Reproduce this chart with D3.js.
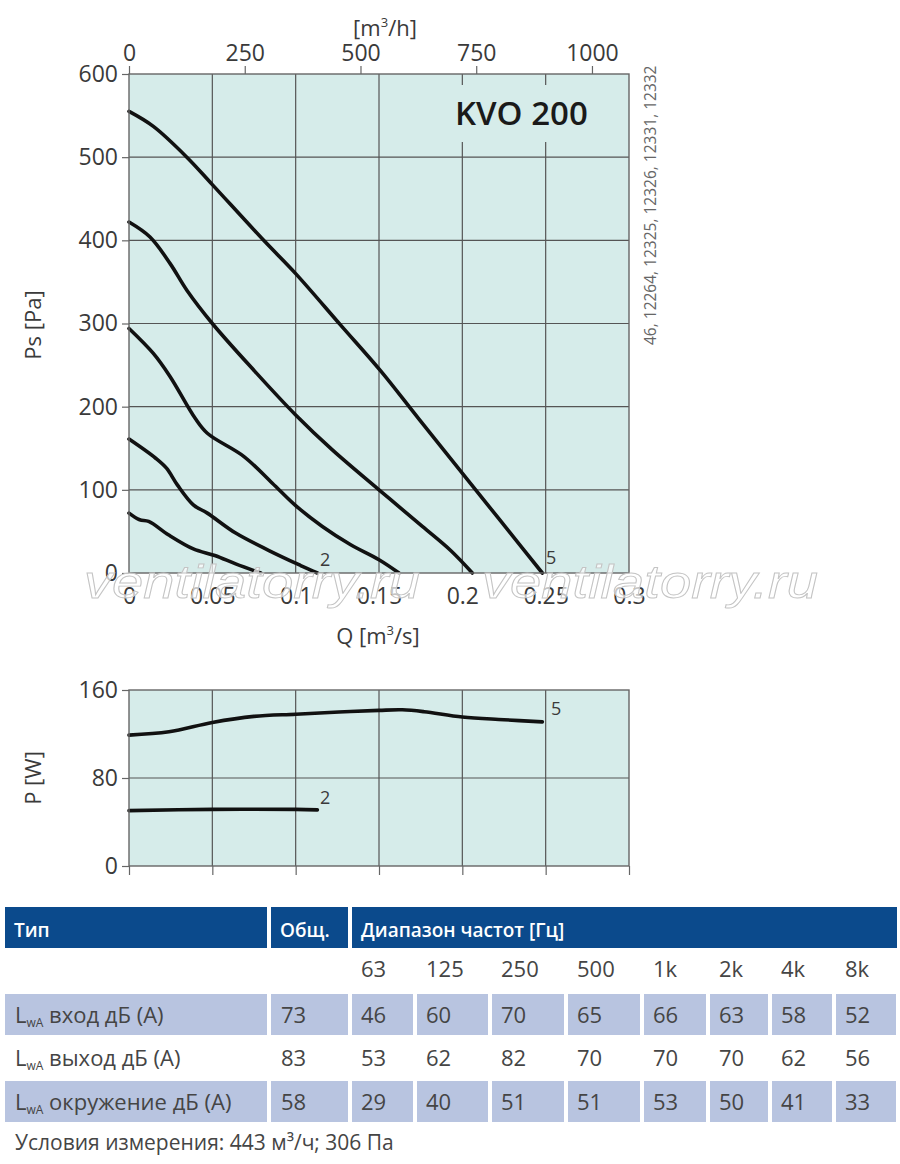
<!DOCTYPE html>
<html>
<head>
<meta charset="utf-8">
<script src="https://cdn.jsdelivr.net/npm/d3@7"></script>
<style>
  body { margin: 0; background: #fff; }
  text { font-family: "Open Sans", "Noto Sans", sans-serif; }
</style>
</head>
<body>
<script>
// ---------- DATA ----------
const qTicks = [0, 0.05, 0.1, 0.15, 0.2, 0.25, 0.3];
const psTicks = [0, 100, 200, 300, 400, 500, 600];
const flowTicks = [0, 250, 500, 750, 1000];
const powerTicks = [0, 80, 160];

// pressure curves [Q m3/s, Ps Pa]
const psCurve1 = [[0, 72], [0.0064, 64], [0.0118, 62], [0.0236, 46], [0.0386, 29], [0.0515, 21], [0.064, 11], [0.079, 0]];
const psCurve2 = [[0, 161], [0.016, 138], [0.0225, 126], [0.029, 106], [0.0386, 82], [0.047, 72], [0.064, 48], [0.084, 27], [0.103, 9], [0.113, 0]];
const psCurve3 = [[0, 294], [0.0146, 264], [0.0247, 236], [0.0397, 186], [0.047, 168], [0.069, 140], [0.086, 108], [0.1, 81], [0.116, 56], [0.133, 34], [0.15, 16], [0.162, 0]];
const psCurve4 = [[0, 422], [0.0126, 404], [0.0247, 372], [0.0347, 340], [0.05, 300], [0.0748, 244], [0.1, 190], [0.122, 148], [0.15, 100], [0.176, 56], [0.193, 27], [0.206, 0]];
const psCurve5 = [[0, 555], [0.0146, 537], [0.0347, 500], [0.05, 467], [0.0808, 400], [0.1, 360], [0.127, 298], [0.151, 243], [0.174, 185], [0.208, 100], [0.228, 50], [0.248, 0]];

// power curves [Q m3/s, P W]
const powerCurve5 = [[0, 119], [0.024, 122], [0.05, 130.5], [0.075, 136], [0.1, 138], [0.126, 140], [0.15, 141.5], [0.164, 142], [0.177, 140.3], [0.2, 135.4], [0.225, 133], [0.248, 131]];
const powerCurve2 = [[0, 50.3], [0.05, 51.5], [0.1, 51.5], [0.113, 51]];

// sound table
const bandLabels = ["63", "125", "250", "500", "1k", "2k", "4k", "8k"];
const rowNames = ["вход", "выход", "окружение"];
const totalLevels = [73, 83, 58];
const inletLevels = [46, 60, 70, 65, 66, 63, 58, 52];
const outletLevels = [53, 62, 82, 70, 70, 70, 62, 56];
const surroundLevels = [29, 40, 51, 51, 53, 50, 41, 33];

// ---------- LAYOUT ----------
const W = 900, H = 1164;
const plotBg = "#d6ecea";
const gridColor = "#555";
const labelColor = "#3a3a3a";

const svg = d3.select("body").append("svg")
  .attr("width", W)
  .attr("height", H);

svg.append("rect").attr("width", W).attr("height", H).attr("fill", "#fff");

const x = d3.scaleLinear().domain([0, 0.3]).range([129, 629]);
const xFlow = d3.scaleLinear().domain([0, 0.3 * 3600]).range([129, 629]);
const yPs = d3.scaleLinear().domain([0, 600]).range([573, 74]);
const yPow = d3.scaleLinear().domain([0, 160]).range([866, 690]);

function styleAxis(g, size) {
  g.select(".domain").remove();
  g.selectAll(".tick line").attr("stroke", "#666").attr("stroke-width", 1.2);
  g.selectAll(".tick text")
    .attr("fill", labelColor)
    .style("font-size", size + "px")
    .style("font-family", "'Open Sans', sans-serif");
}

// ---------- PRESSURE CHART ----------
const main = svg.append("g");

main.append("rect")
  .attr("x", x(0)).attr("y", yPs(600))
  .attr("width", x(0.3) - x(0)).attr("height", yPs(0) - yPs(600))
  .attr("fill", plotBg);

main.append("g").selectAll("line")
  .data(qTicks.slice(1, -1))
  .join("line")
  .attr("x1", d => x(d)).attr("x2", d => x(d))
  .attr("y1", yPs(600)).attr("y2", yPs(0))
  .attr("stroke", gridColor).attr("stroke-width", 1.2);

main.append("g").selectAll("line")
  .data(psTicks.slice(1, -1))
  .join("line")
  .attr("x1", x(0)).attr("x2", x(0.3))
  .attr("y1", d => yPs(d)).attr("y2", d => yPs(d))
  .attr("stroke", gridColor).attr("stroke-width", 1.2);

// title box hides grid under the model name
main.append("rect")
  .attr("x", 448).attr("y", 85)
  .attr("width", 152).attr("height", 57)
  .attr("fill", plotBg);

main.append("text")
  .attr("x", 455).attr("y", 125)
  .attr("fill", "#1a1a1a")
  .style("font-size", "33px")
  .style("font-weight", 600)
  .text("KVO 200");

const psLine = d3.line()
  .x(d => x(d[0]))
  .y(d => yPs(d[1]))
  .curve(d3.curveCatmullRom.alpha(0.5));

main.append("g").selectAll("path")
  .data([psCurve1, psCurve2, psCurve3, psCurve4, psCurve5])
  .join("path")
  .attr("d", psLine)
  .attr("fill", "none")
  .attr("stroke", "#111")
  .attr("stroke-width", 3.6)
  .attr("stroke-linecap", "round");

main.append("rect")
  .attr("x", x(0)).attr("y", yPs(600))
  .attr("width", x(0.3) - x(0)).attr("height", yPs(0) - yPs(600))
  .attr("fill", "none").attr("stroke", "#666").attr("stroke-width", 1.4);

main.append("text").attr("x", 320).attr("y", 566)
  .attr("fill", labelColor).style("font-size", "18px").text("2");
main.append("text").attr("x", 546).attr("y", 564)
  .attr("fill", labelColor).style("font-size", "18px").text("5");

// watermark
["ventilatorry.ru", "ventilatorry.ru"].forEach((t, i) => {
  svg.append("text")
    .attr("x", i === 0 ? 84 : 482).attr("y", 598)
    .attr("textLength", 336).attr("lengthAdjust", "spacingAndGlyphs")
    .attr("fill", "#fff").attr("fill-opacity", 0.7)
    .attr("stroke", "#c4c4c4").attr("stroke-width", 0.9)
    .style("font-family", "'Liberation Sans', sans-serif")
    .style("font-style", "italic")
    .style("font-size", "46px")
    .text(t);
});

main.append("g")
  .attr("transform", "translate(0," + yPs(0) + ")")
  .call(d3.axisBottom(x).tickValues(qTicks).tickSize(0).tickPadding(15).tickFormat(d => String(d)))
  .call(g => styleAxis(g, 23));

main.append("g")
  .attr("transform", "translate(0," + yPs(600) + ")")
  .call(d3.axisTop(xFlow).tickValues(flowTicks).tickSize(8).tickPadding(5).tickFormat(d3.format("d")))
  .call(g => styleAxis(g, 23));

main.append("g")
  .attr("transform", "translate(" + x(0) + ",0)")
  .call(d3.axisLeft(yPs).tickValues(psTicks).tickSize(7).tickPadding(4))
  .call(g => styleAxis(g, 23));

main.append("text")
  .attr("x", 385).attr("y", 36)
  .attr("text-anchor", "middle")
  .attr("fill", labelColor).style("font-size", "22px")
  .html("[m<tspan dy='-9' font-size='13'>3</tspan><tspan dy='9'>/h]</tspan>");

main.append("text")
  .attr("x", 378).attr("y", 644)
  .attr("text-anchor", "middle")
  .attr("fill", labelColor).style("font-size", "22px")
  .html("Q [m<tspan dy='-9' font-size='13'>3</tspan><tspan dy='9'>/s]</tspan>");

main.append("text")
  .attr("transform", "translate(41,325) rotate(-90)")
  .attr("text-anchor", "middle")
  .attr("fill", labelColor).style("font-size", "22px")
  .text("Ps [Pa]");

main.append("text")
  .attr("transform", "translate(656,345) rotate(-90)")
  .attr("fill", "#666").style("font-size", "15.5px")
  .text("46, 12264, 12325, 12326, 12331, 12332");

// ---------- POWER CHART ----------
const pow = svg.append("g");

pow.append("rect")
  .attr("x", x(0)).attr("y", yPow(160))
  .attr("width", x(0.3) - x(0)).attr("height", yPow(0) - yPow(160))
  .attr("fill", plotBg);

pow.append("g").selectAll("line")
  .data(qTicks.slice(1, -1))
  .join("line")
  .attr("x1", d => x(d)).attr("x2", d => x(d))
  .attr("y1", yPow(160)).attr("y2", yPow(0))
  .attr("stroke", gridColor).attr("stroke-width", 1.2);

pow.append("line")
  .attr("x1", x(0)).attr("x2", x(0.3))
  .attr("y1", yPow(80)).attr("y2", yPow(80))
  .attr("stroke", gridColor).attr("stroke-width", 1.2);

const powLine = d3.line()
  .x(d => x(d[0]))
  .y(d => yPow(d[1]))
  .curve(d3.curveCatmullRom.alpha(0.5));

pow.append("g").selectAll("path")
  .data([powerCurve2, powerCurve5])
  .join("path")
  .attr("d", powLine)
  .attr("fill", "none")
  .attr("stroke", "#111")
  .attr("stroke-width", 3.6)
  .attr("stroke-linecap", "round");

pow.append("rect")
  .attr("x", x(0)).attr("y", yPow(160))
  .attr("width", x(0.3) - x(0)).attr("height", yPow(0) - yPow(160))
  .attr("fill", "none").attr("stroke", "#666").attr("stroke-width", 1.4);

pow.append("g")
  .attr("transform", "translate(0," + yPow(0) + ")")
  .call(d3.axisBottom(x).tickValues(qTicks).tickSize(9).tickFormat(""))
  .call(g => styleAxis(g, 23));

pow.append("g")
  .attr("transform", "translate(" + x(0) + ",0)")
  .call(d3.axisLeft(yPow).tickValues(powerTicks).tickSize(7).tickPadding(4))
  .call(g => styleAxis(g, 23));

pow.append("text").attr("x", 551).attr("y", 715)
  .attr("fill", labelColor).style("font-size", "18px").text("5");
pow.append("text").attr("x", 320).attr("y", 804)
  .attr("fill", labelColor).style("font-size", "18px").text("2");

pow.append("text")
  .attr("transform", "translate(41,778) rotate(-90)")
  .attr("text-anchor", "middle")
  .attr("fill", labelColor).style("font-size", "22px")
  .text("P [W]");

// ---------- SOUND TABLE ----------
const headBlue = "#0b4a8c";
const cellShade = "#b8c4e0";
const textGrey = "#454545";

// column spans: label, total, then octave bands
const cols = [[5, 267], [271, 348], [352, 413], [417, 488], [492, 564], [568, 640],
              [644, 706], [710, 768], [772, 832], [836, 896]];

const tbl = svg.append("g");

const headCells = [
  { x0: 5, x1: 267, label: "Тип" },
  { x0: 271, x1: 348, label: "Общ." },
  { x0: 352, x1: 897, label: "Диапазон частот [Гц]" }
];
tbl.selectAll("rect.head")
  .data(headCells)
  .join("rect")
  .attr("class", "head")
  .attr("x", d => d.x0).attr("y", 907)
  .attr("width", d => d.x1 - d.x0).attr("height", 41)
  .attr("fill", headBlue);
tbl.selectAll("text.head")
  .data(headCells)
  .join("text")
  .attr("class", "head")
  .attr("x", d => d.x0 + 9).attr("y", 937)
  .attr("fill", "#fff")
  .style("font-size", "19px").style("font-weight", 600)
  .text(d => d.label);

tbl.selectAll("text.band")
  .data(bandLabels)
  .join("text")
  .attr("class", "band")
  .attr("x", (d, i) => cols[i + 2][0] + 9).attr("y", 977)
  .attr("fill", textGrey).style("font-size", "22px")
  .text(d => d);

const rows = [
  { name: rowNames[0], total: totalLevels[0], bands: inletLevels, shade: true, y: 994 },
  { name: rowNames[1], total: totalLevels[1], bands: outletLevels, shade: false, y: 1037 },
  { name: rowNames[2], total: totalLevels[2], bands: surroundLevels, shade: true, y: 1081 }
];
const rowH = 41;

rows.forEach(r => {
  const g = tbl.append("g");
  if (r.shade) {
    g.selectAll("rect")
      .data(cols)
      .join("rect")
      .attr("x", d => d[0]).attr("y", r.y)
      .attr("width", d => d[1] - d[0]).attr("height", rowH)
      .attr("fill", cellShade);
  }
  const base = r.y + 29;
  g.append("text")
    .attr("x", 15).attr("y", base)
    .attr("fill", textGrey).style("font-size", "22px")
    .html("L<tspan font-size='12' dy='4'>wA</tspan><tspan dy='-4'> " + r.name + " дБ (А)</tspan>");
  g.append("text")
    .attr("x", cols[1][0] + 10).attr("y", base)
    .attr("fill", textGrey).style("font-size", "22px")
    .text(r.total);
  g.selectAll("text.v")
    .data(r.bands)
    .join("text")
    .attr("class", "v")
    .attr("x", (d, i) => cols[i + 2][0] + 9).attr("y", base)
    .attr("fill", textGrey).style("font-size", "22px")
    .text(d => d);
});

tbl.append("text")
  .attr("x", 15).attr("y", 1150)
  .attr("fill", textGrey).style("font-size", "21px")
  .text("Условия измерения: 443 м³/ч; 306 Па");
</script>
</body>
</html>
